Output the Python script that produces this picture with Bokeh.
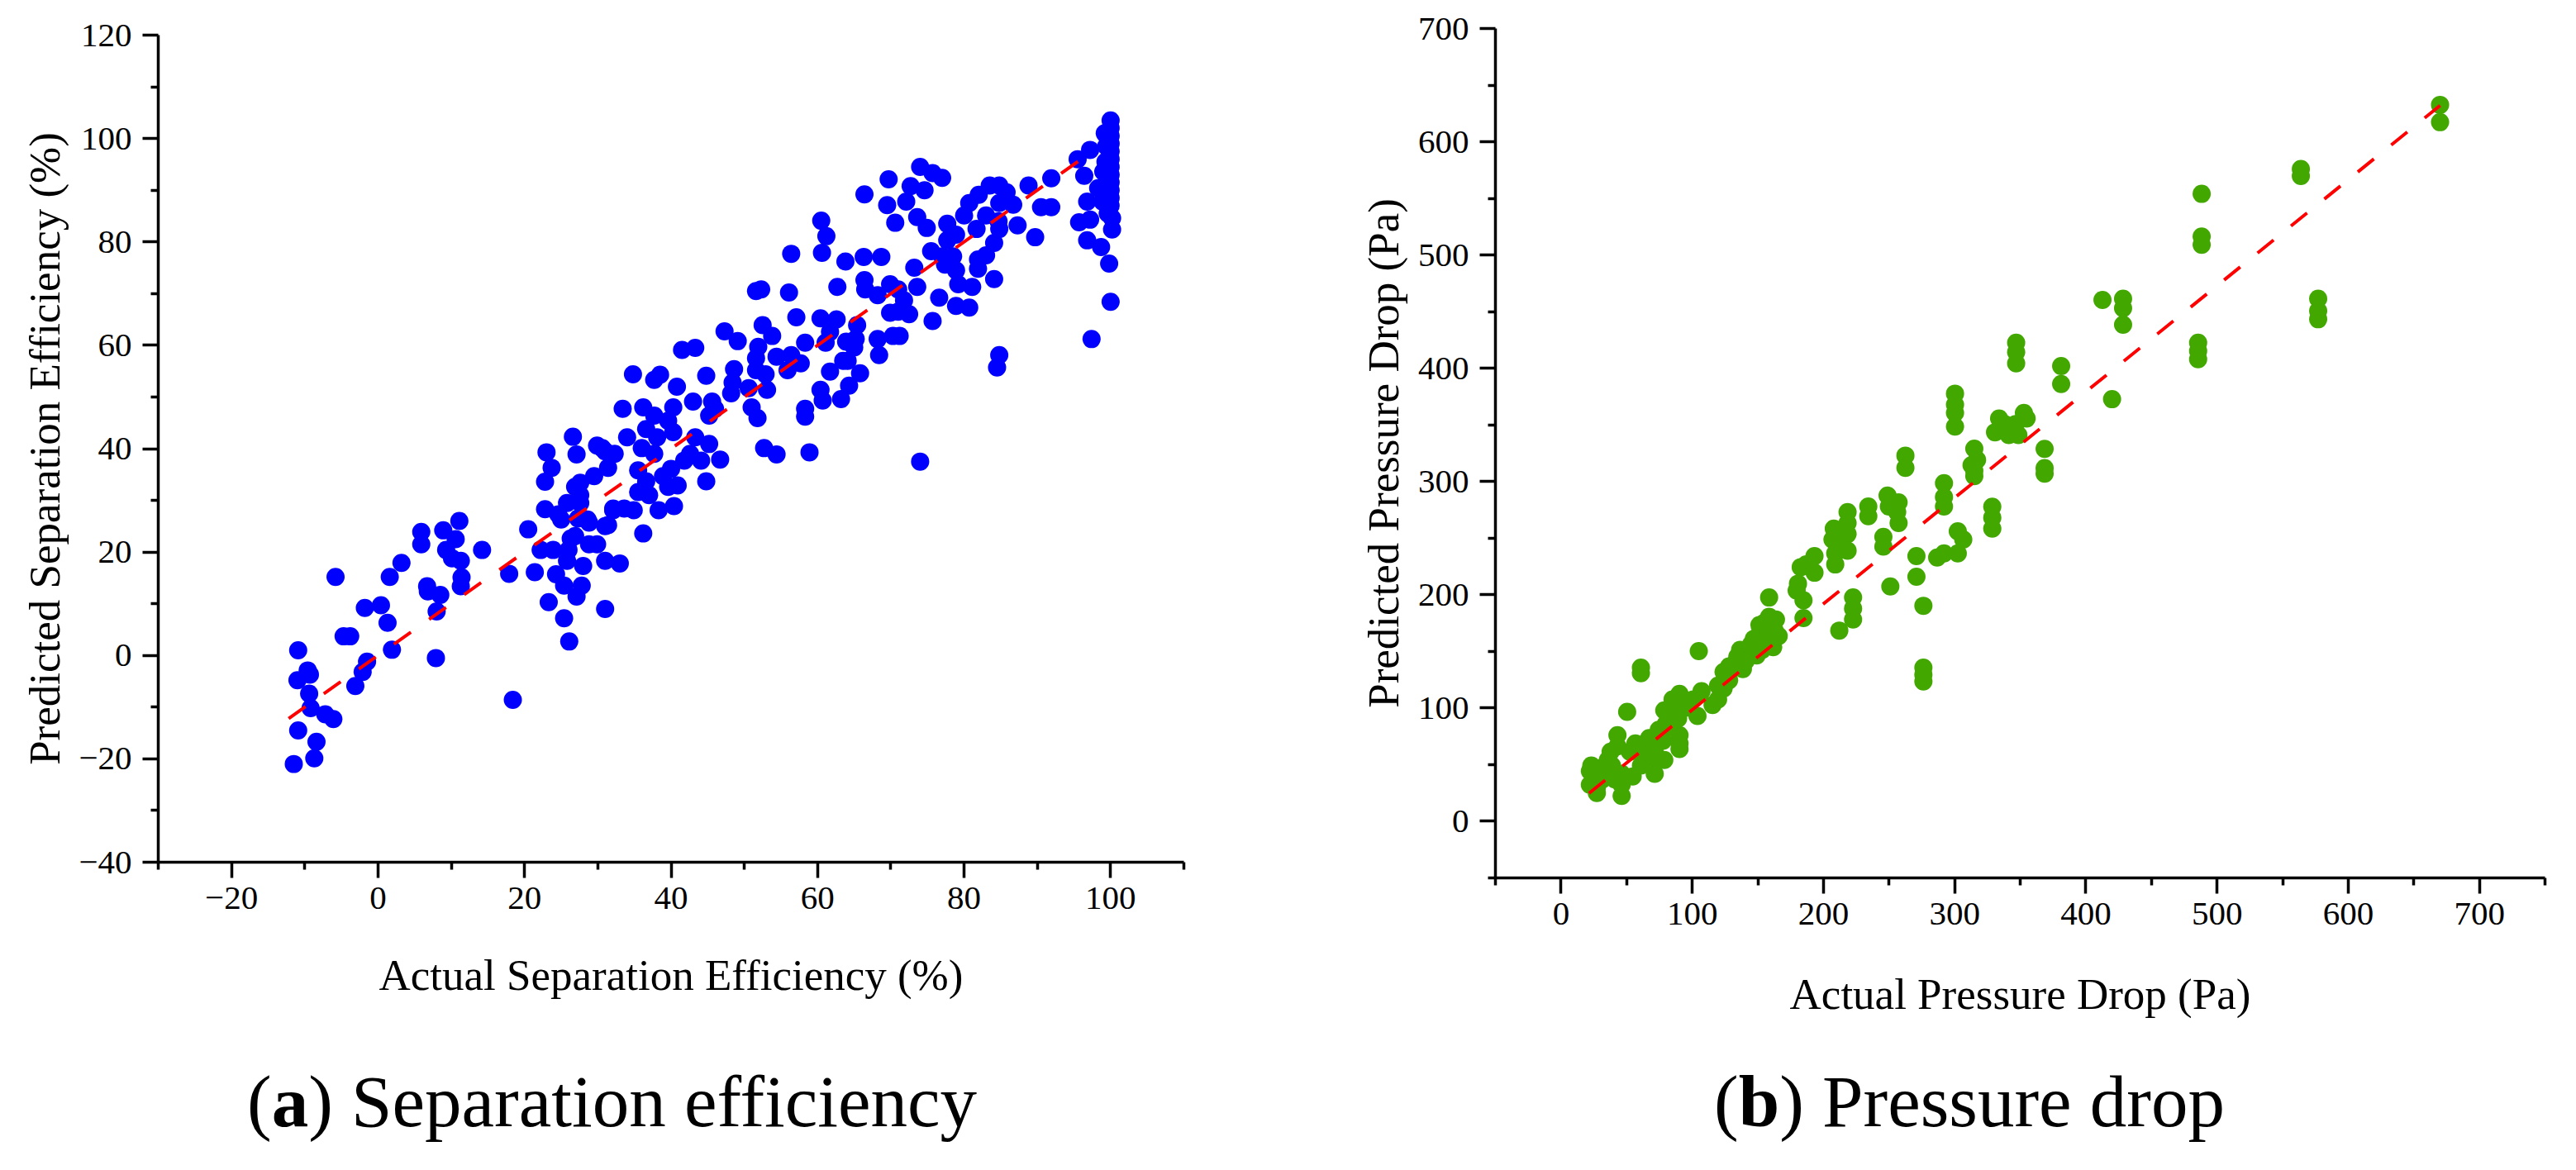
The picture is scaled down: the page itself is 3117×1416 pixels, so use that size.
from bokeh.plotting import figure
from bokeh.models import FixedTicker, Range1d, Div
from bokeh.layouts import row, column
from bokeh.embed import file_html
from bokeh.resources import INLINE

FONT = "Liberation Serif"

# ---------------- data: (a) separation efficiency ----------------
sep_actual = [
    -5.8, -10.9, -9.6, -11.0, -9.3, -9.4, -9.2, -7.2, -6.1, -10.9, -8.4, -8.7, -11.5, -3.1, -2.1, -1.5,
    -4.7, -3.8, 1.9, 7.9, 18.4, -1.8, 0.4, 1.3, 1.6, 3.2, 5.9, 5.9, 6.7, 6.8, 8.5, 8.0, 8.9, 11.1, 10.6,
    9.3, 10.1, 11.3, 11.4, 11.3, 14.2, 17.9, 20.5, 21.4, 22.8, 22.8, 23.7, 22.2, 23.9, 23.3, 25.4, 26.1,
    24.3, 25.4, 27.1, 27.8, 28.0, 25.8, 26.0, 25.0, 27.3, 28.8, 26.3, 29.9, 31.0, 31.0, 33.0, 31.0, 32.1,
    27.6, 27.6, 29.5, 31.4,
    26.9, 27.6, 28.6, 24.6, 25.8, 32.1, 33.6, 31.4, 28.8, 26.9,
    23.0, 26.6, 27.1, 29.9, 31.0, 33.4, 34.8, 37.7, 38.5, 40.8, 41.5, 43.3, 44.8, 47.3, 49.1, 52.5, 53.8,
    57.1, 60.4, 62.6, 61.7, 51.9, 51.6, 54.4, 56.4, 58.3, 61.1, 63.9, 63.5, 61.7, 60.4, 60.7, 63.2, 64.3,
    58.3, 58.3, 58.9, 52.7, 54.4, 55.9, 57.7, 48.6, 48.4, 48.2, 50.6, 53.1, 52.9, 51.6, 51.0, 51.8, 45.6,
    43.0, 40.3, 36.2, 37.7, 39.6, 45.2, 46.0, 36.6, 34.0, 38.1, 40.3, 43.3, 45.2, 46.7, 42.6, 41.8, 44.1,
    36.0, 37.7, 32.3, 30.6, 35.5, 36.6, 38.9, 40.0, 40.9, 39.6, 37.0, 35.5, 38.3, 40.4, 34.9, 36.2, 44.8,
    56.4, 51.6, 52.3, 56.1, 60.5, 61.2, 60.6, 63.8, 62.7, 66.4, 69.7, 69.5, 70.6, 72.1, 72.7, 74.0, 75.7,
    77.0, 74.6, 73.6, 74.9, 66.3, 68.7, 66.4, 66.5, 68.2, 69.9, 71.0, 73.2, 73.6, 71.8, 69.9, 72.5, 71.0,
    68.2, 70.3, 71.2, 68.4, 65.8, 65.4, 65.2, 65.0, 64.1, 74.0, 75.7, 76.6, 75.5, 77.7, 78.9, 77.7, 77.0,
    78.5, 77.4, 78.9, 79.2, 81.1, 78.9, 80.7, 80.0, 80.7, 82.0, 83.5, 84.8, 85.8, 84.8, 86.7, 81.7, 83.0,
    84.7, 84.8, 87.3, 84.1, 83.0, 81.9, 81.9, 84.1, 84.8, 84.5, 88.8, 90.5, 91.9, 91.9, 89.7, 95.5, 97.2,
    96.4, 96.8, 95.7, 97.2, 96.8, 98.7, 97.4, 99.8, 100.0, 99.0, 98.3, 98.9, 100.2, 100.2,
    100.0, 100.0, 100.0, 100.0, 100.0, 100.0, 100.0, 100.0, 100.0, 100.0, 100.0, 100.0, 99.6, 99.4, 99.3, 99.2,
]
sep_pred = [
    15.2, 1.0, -2.9, -4.8, -3.7, -7.4, -10.2, -11.4, -12.3, -14.5, -16.7, -19.9, -21.0, -5.9, -3.2, -1.2,
    3.7, 3.7, 1.1, -0.5, -8.6, 9.2, 9.7, 6.3, 15.2, 17.9, 23.9, 21.5, 13.4, 12.4, 11.7, 8.5, 24.2, 26.0, 22.5,
    20.4, 18.8, 18.3, 15.1, 13.4, 20.4, 15.8, 24.4, 16.1, 28.3, 33.6, 36.3, 20.4, 20.4, 10.3, 7.2, 2.7,
    15.7, 13.5, 11.4, 13.5, 17.3, 18.3, 20.4, 26.3, 26.5, 25.7, 22.6, 21.5, 9.0, 18.3, 17.8, 25.0, 28.1,
    31.0, 33.4, 34.7, 36.3,
    32.6, 29.5, 26.3, 27.3, 29.5, 28.4, 28.4, 25.2, 21.5, 23.1,
    39.3, 42.3, 38.9, 40.6, 39.5, 47.7, 54.4, 53.3, 54.3, 52.0, 59.1, 59.5, 54.1, 62.7, 60.8, 63.9, 61.8,
    65.4, 65.2, 65.0, 62.6, 59.7, 57.5, 57.8, 58.1, 60.5, 60.5, 60.7, 57.0, 54.9, 51.4, 49.3, 49.6, 52.2,
    47.7, 46.2, 39.3, 40.1, 38.9, 55.2, 56.5, 55.4, 52.8, 50.7, 51.7, 51.4, 54.4, 55.2, 48.0, 45.9, 49.1,
    49.1, 48.0, 48.0, 46.4, 45.4, 46.4, 47.7, 43.8, 42.2, 42.2, 43.2, 42.2, 40.9, 37.9, 39.0, 37.7, 37.7,
    40.1, 39.0, 39.0, 40.1, 35.8, 33.7, 34.7, 36.1, 32.9, 32.6, 31.0, 31.6, 28.1, 28.9, 28.1, 23.6, 33.7,
    77.7, 70.5, 70.8, 70.2, 84.1, 81.1, 77.9, 76.2, 71.3, 89.2, 92.1, 87.1, 83.7, 87.8, 90.8, 94.5, 93.3,
    92.4, 90.0, 84.8, 82.7, 77.1, 77.1, 72.6, 70.8, 69.7, 71.8, 70.8, 75.0, 71.3, 68.7, 66.3, 66.0, 66.5,
    61.2, 61.8, 61.8, 58.1, 54.6, 63.9, 61.2, 59.6, 57.0, 37.5, 64.7, 69.2, 78.2, 83.5, 81.4, 80.3, 77.2,
    77.2, 75.6, 74.5, 71.8, 71.3, 67.6, 67.3, 85.1, 87.5, 89.1, 90.9, 90.9, 89.6, 87.5, 87.2, 82.5, 85.1,
    84.0, 82.5, 83.2, 79.8, 77.4, 76.6, 74.8, 72.8, 58.1, 55.7, 90.9, 86.7, 86.7, 92.3, 80.9, 96.0, 97.8,
    92.8, 87.8, 83.8, 84.3, 80.3, 79.0, 61.2, 75.8, 68.4, 93.6, 90.4, 87.8, 84.6, 82.4,
    103.5, 102.0, 100.5, 99.0, 97.5, 96.0, 94.5, 93.0, 91.5, 90.0, 88.5, 87.0, 85.5, 98.5, 95.5, 101.0,
]
sep_fit_x = [-12.2, 97.6]
sep_fit_y = [-12.2, 97.6]

# ---------------- data: (b) pressure drop ----------------
pd_actual = [
    22.0, 22.0, 27.3, 25.2, 29.4, 35.7, 43.0, 43.0, 46.2, 46.2, 46.2, 50.4, 54.6, 60.9, 65.1, 71.4, 69.3,
    78.7, 77.7, 78.7, 79.8, 90.3, 90.3, 60.9, 60.9, 90.3, 95.5, 100.8, 104.0, 105.0, 107.1, 115.5, 119.7,
    119.7, 123.9, 123.9, 128.1, 132.3, 136.5, 138.6, 142.8, 144.9, 149.1, 150.2, 151.2, 157.5, 158.6, 158.6,
    162.8, 161.7, 153.3, 147.0, 179.6, 184.8, 184.8, 182.7, 186.9, 193.2, 193.2, 180.6, 207.9, 206.9, 209.0,
    209.0, 214.2, 218.4, 218.4, 218.4, 218.4, 212.1, 222.6, 222.6, 222.6, 234.2, 234.2, 245.7, 245.7, 248.9,
    249.9, 257.3, 256.2, 257.3, 251.0, 262.5, 262.5, 270.9, 270.9, 276.2, 276.2, 276.2, 276.2, 286.7, 291.9,
    291.9, 291.9, 291.9, 302.4, 302.4, 306.6, 300.3, 300.3, 315.0, 312.9, 315.0,
    23.1, 27.3, 31.5, 37.8, 38.8, 41.0, 52.5, 56.7, 63.0, 67.2, 71.4, 74.5, 84.0, 85.0, 86.1, 81.9, 89.2,
    90.3, 128.1, 134.4, 140.7, 149.1, 154.4, 155.4, 165.9, 163.8,
    300.3, 300.3, 317.1, 315.0, 328.7, 328.7, 328.7, 330.8, 333.9, 341.3, 346.5, 352.8, 354.9, 348.6, 338.1,
    346.9, 346.9, 346.9, 368.6, 368.6, 368.6, 381.2, 381.2, 412.7, 428.4, 428.4, 428.4, 420.0, 488.3, 488.3,
    488.3, 485.6, 485.6, 485.6, 563.9, 563.9, 577.1, 577.1, 577.1, 670.0, 670.0,
]
pd_pred = [
    44.3, 32.2, 29.7, 39.5, 46.8, 54.1, 76.0, 66.2, 22.4, 32.2, 41.9, 96.6, 39.5, 49.2, 66.2, 41.9, 56.5,
    54.1, 71.1, 97.9, 85.7, 76.0, 63.8, 130.7, 135.6, 112.5, 100.3, 107.6, 93.0, 150.2, 114.9, 102.7, 119.8,
    107.6, 131.9, 117.3, 124.6, 139.2, 151.4, 134.4, 146.5, 156.3, 146.5, 163.6, 173.3, 166.0, 180.6, 197.6,
    168.4, 153.8, 151.4, 161.1, 203.7, 195.2, 179.4, 224.4, 226.8, 234.1, 219.5, 209.8, 258.4, 248.7, 236.5,
    226.8, 243.8, 273.0, 263.3, 253.6, 239.0, 168.4, 197.6, 187.9, 178.2, 277.9, 269.4, 251.1, 242.6, 287.6,
    277.9, 281.6, 273.0, 263.3, 207.4, 322.9, 312.0, 234.1, 215.9, 190.3, 135.6, 129.5, 123.4, 232.9, 236.5,
    298.6, 286.4, 277.9, 256.0, 236.5, 248.7, 360.6, 348.5, 329.0, 314.4, 304.7,
    49.2, 24.9, 37.0, 61.4, 49.2, 37.0, 61.4, 68.7, 61.4, 73.5, 63.8, 80.8, 83.3, 107.6, 100.3, 97.9, 90.6,
    68.7, 136.8, 145.3, 141.6, 153.8, 158.7, 175.7, 163.6, 178.2,
    377.6, 367.9, 319.2, 309.5, 277.8, 268.1, 258.4, 343.5, 355.7, 341.1, 350.8, 360.6, 355.7, 341.1, 350.8,
    422.6, 414.1, 404.4, 328.9, 311.9, 307.0, 401.9, 386.1, 460.3, 461.5, 453.0, 438.4, 372.7, 554.0, 516.3,
    509.0, 422.6, 415.3, 408.0, 575.9, 569.8, 461.5, 450.6, 443.3, 632.6, 617.3,
]
pd_fit_x = [21.4, 670.0]
pd_fit_y = [24.8, 632.0]

# ---------------- ticks ----------------
sep_x_major = [-20, 0, 20, 40, 60, 80, 100]
sep_x_minor = [-30, -10, 10, 30, 50, 70, 90, 110]
sep_y_major = [-40, -20, 0, 20, 40, 60, 80, 100, 120]
sep_y_minor = [-30, -10, 10, 30, 50, 70, 90, 110]
pd_major = [0, 100, 200, 300, 400, 500, 600, 700]
pd_x_minor = [-50, 50, 150, 250, 350, 450, 550, 650, 750]
pd_y_minor = [-50, 50, 150, 250, 350, 450, 550, 650]

FIG_H = 1280
CAP_H = 118


def style_axis(ax, major, minor, label, label_standoff, axis_label_standoff):
    ax.ticker = FixedTicker(ticks=major, minor_ticks=minor)
    ax.axis_label = label
    ax.axis_line_width = 3.5
    ax.axis_line_color = "black"
    ax.major_tick_line_width = 3.5
    ax.minor_tick_line_width = 3.5
    ax.major_tick_line_color = "black"
    ax.minor_tick_line_color = "black"
    ax.major_tick_out = 19
    ax.major_tick_in = 0
    ax.minor_tick_out = 9
    ax.minor_tick_in = 0
    ax.major_label_text_font = FONT
    ax.major_label_text_font_size = "41px"
    ax.major_label_text_color = "black"
    ax.major_label_standoff = label_standoff
    ax.axis_label_text_font = FONT
    ax.axis_label_text_font_size = "53px"
    ax.axis_label_text_font_style = "normal"
    ax.axis_label_text_color = "black"
    ax.axis_label_standoff = axis_label_standoff
    ax.major_label_overrides = {t: ("\u2212" + str(-t)) for t in major if t < 0}


def make_panel(width, borders, xr, yr, xs, ys, color, fit_x, fit_y,
               xmaj, xmin, ymaj, ymin, xlabel, ylabel, xlab_standoff, ylab_standoff):
    left, right, top, bottom = borders
    p = figure(width=width, height=FIG_H, output_backend="svg", toolbar_location=None,
               x_range=Range1d(*xr), y_range=Range1d(*yr),
               min_border_left=left, min_border_right=right,
               min_border_top=top, min_border_bottom=bottom)
    p.outline_line_color = None
    p.xgrid.visible = False
    p.ygrid.visible = False
    p.background_fill_color = "white"
    p.border_fill_color = "white"
    style_axis(p.xaxis[0], xmaj, xmin, xlabel, 11, xlab_standoff)
    style_axis(p.yaxis[0], ymaj, ymin, ylabel, 13, ylab_standoff)
    p.scatter(xs, ys, marker="circle", size=22, fill_color=color, line_color=None)
    p.line(fit_x, fit_y, line_color="#FF0000", line_width=4, line_dash="25 27")
    return p


def caption(width, left_px, letter, rest):
    html = ('<div style="margin-left:%dpx; margin-top:9px; font-family:\'Liberation Serif\'; '
            'font-size:89px; line-height:89px; white-space:nowrap; color:black;">'
            '(<b>%s</b>)%s</div>' % (left_px, letter, rest))
    return Div(text=html, width=width, height=CAP_H, margin=0)


p1 = make_panel(1600, (191, 168, 42, 237), (-30, 110), (-40, 120), sep_actual, sep_pred, "#0000FF",
                sep_fit_x, sep_fit_y, sep_x_major, sep_x_minor, sep_y_major, sep_y_minor,
                "Actual Separation Efficiency (%)", "Predicted Separation Efficiency (%)", 48, 9)
p2 = make_panel(1500, (209, 21, 34, 218), (-50, 750), (-50, 700), pd_actual, pd_pred, "#42A800",
                pd_fit_x, pd_fit_y, pd_major, pd_x_minor, pd_major, pd_y_minor,
                "Actual Pressure Drop (Pa)", "Predicted Pressure Drop (Pa)", 52, 10)

c1 = caption(1600, 299, "a", " Separation efficiency")
c2 = caption(1500, 474, "b", " Pressure drop")

layout = row(column(p1, c1), column(p2, c2))
open("out.html", "w").write(file_html(layout, INLINE))
